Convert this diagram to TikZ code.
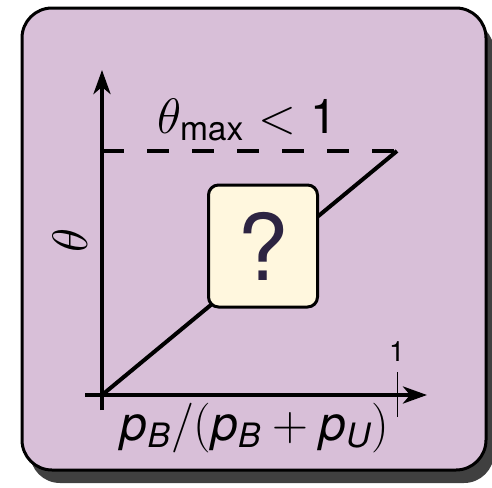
\documentclass[tikz,border=0pt]{standalone}
\usepackage{fontspec}
\setmainfont{TeX Gyre Heros}
\usetikzlibrary{arrows.meta,positioning}
\definecolor{panelfill}{RGB}{216,191,216}
\definecolor{qfill}{RGB}{255,247,222}
\definecolor{qtext}{RGB}{45,36,66}
\definecolor{shadowgray}{RGB}{64,64,64}
\tikzset{
  % Outer panel and its shadow
  panel/.style={draw, line width=1.5pt, rounded corners=15pt, fill=panelfill},
  panelshadow/.style={fill=shadowgray, rounded corners=15pt},
  % Axes and curves
  axis/.style={line width=2pt, -{Stealth[length=12pt, width=8.5pt, inset=3.5pt]}},
  graphline/.style={line width=2pt},
  limitline/.style={line width=2pt, dash pattern=on 11pt off 11.5pt},
  tickline/.style={line width=0.5pt},
  % Labels
  biglabel/.style={font=\fontsize{24}{28}\selectfont, inner sep=1pt},
  ticklabel/.style={font=\fontsize{14}{16}\selectfont, inner sep=1pt},
  % Question box
  qbox/.style={draw, line width=1.5pt, rounded corners=5pt, fill=qfill,
               text=qtext, font=\fontsize{46}{50}\selectfont,
               minimum width=54.5pt, minimum height=61pt}
}

\begin{document}
\begin{tikzpicture}[x=0.5pt, y=-0.5pt]
\useasboundingbox (0,0) rectangle (492,487);

% Panel with drop shadow
\fill[panelshadow] (30,21) rectangle (494,483);
\draw[panel] (22,8) rectangle (486,470);

% Axis points
\coordinate (O) at (102,395);
\coordinate (ybot) at (102,410);
\coordinate (ytop) at (102,70);
\coordinate (xleft) at (85,395);
\coordinate (xright) at (427,395);
\coordinate (ymax) at (102,151);
\coordinate (corner) at (397,151);
\coordinate (tickT) at (397,372);
\coordinate (tickB) at (397,417);

% Axes
\draw[axis] (ybot) -- (ytop);
\draw[axis] (xleft) -- (xright);
\draw[tickline] (tickT) -- (tickB);

% Upper limit and curve
\draw[limitline] (ymax) -- (corner);
\draw[graphline] (O) -- (corner);

% Labels
\node[biglabel] (tmax) at (247,120) {$\theta_{\mathrm{max}} < \mathrm{1}$};
\node[biglabel, rotate=90] (ylab) at (70,240) {$\theta$};
\node[biglabel] (xlab) at (255,428)
  {$\mathit{p}_{\mathit{B}}/\mathrm{(}\mathit{p}_{\mathit{B}} + \mathit{p}_{\mathit{U}}\mathrm{)}$};
\node[ticklabel] (one) at (397,352) {1};

% Unknown shape of the curve
\node[qbox] (q) at (263,246) {?};

\end{tikzpicture}
\end{document}
